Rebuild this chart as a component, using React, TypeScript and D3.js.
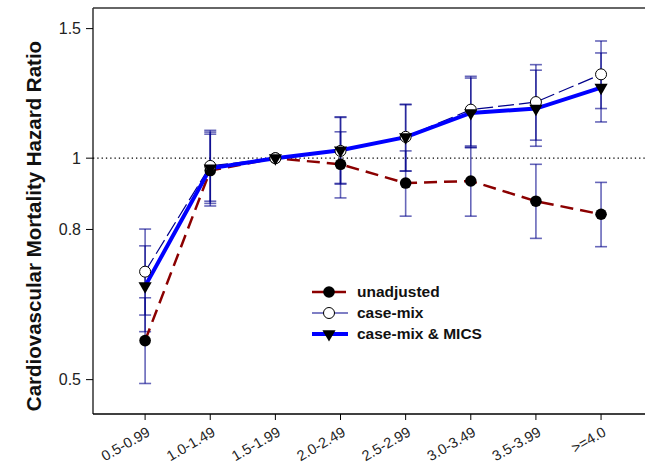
import React, { useEffect, useRef } from "react";
import * as d3 from "d3";

const categories = ["0.5-0.99", "1.0-1.49", "1.5-1.99", "2.0-2.49", "2.5-2.99", "3.0-3.49", "3.5-3.99", ">=4.0"];

const unadjusted = [0.565, 0.962, 1.0, 0.981, 0.925, 0.931, 0.874, 0.839];
const unadjustedLo = [0.494, 0.861, null, 0.883, 0.834, 0.834, 0.778, 0.758];
const unadjustedHi = [0.646, 1.078, null, 1.086, 1.023, 1.035, 0.981, 0.927];

const caseMix = [0.701, 0.976, 1.0, 1.023, 1.069, 1.164, 1.192, 1.3];
const caseMixLo = [0.612, 0.874, null, 0.924, 0.961, 1.039, 1.058, 1.168];
const caseMixHi = [0.801, 1.091, null, 1.138, 1.184, 1.292, 1.34, 1.443];

const mics = [0.67, 0.969, 1.0, 1.025, 1.068, 1.152, 1.168, 1.247];
const micsLo = [0.581, 0.868, null, 0.922, 0.96, 1.033, 1.038, 1.12];
const micsHi = [0.76, 1.085, null, 1.136, 1.182, 1.285, 1.317, 1.39];

const yTicks = [0.5, 0.8, 1, 1.5];
const legendLabels = ["unadjusted", "case-mix", "case-mix & MICS"];

const FONT = "'Liberation Sans', Arial, sans-serif";

const App = () => {
  const ref = useRef<SVGSVGElement>(null);

  useEffect(() => {
    const svg = d3.select(ref.current);
    svg.selectAll("*").remove();

    const left = 93,
      top = 8,
      bottom = 414,
      right = 646;

    const x = d3.scaleLinear().domain([-0.8, 7.69]).range([left, right]);
    const y = d3.scaleLog().domain([0.449, 1.6]).range([bottom, top]);
    const idx = categories.map((_, i) => i);

    // frame
    svg.append("line").attr("x1", left).attr("x2", right).attr("y1", top).attr("y2", top)
      .attr("stroke", "#333").attr("stroke-width", 1.5);
    svg.append("line").attr("x1", left).attr("x2", left).attr("y1", top).attr("y2", bottom)
      .attr("stroke", "#333").attr("stroke-width", 1.5);
    svg.append("line").attr("x1", left).attr("x2", right).attr("y1", bottom).attr("y2", bottom)
      .attr("stroke", "#000").attr("stroke-width", 1.5);

    // y ticks
    const yAxis = svg.append("g");
    yTicks.forEach((t) => {
      yAxis.append("line").attr("x1", left - 7).attr("x2", left).attr("y1", y(t)).attr("y2", y(t))
        .attr("stroke", "#000");
      yAxis.append("text").attr("x", left - 12).attr("y", y(t)).attr("dy", "0.35em")
        .attr("text-anchor", "end").attr("font-family", FONT)
        .attr("font-size", 16).attr("fill", "#222").text(String(t));
    });

    // x ticks
    const xAxis = svg.append("g");
    categories.forEach((c, i) => {
      xAxis.append("line").attr("x1", x(i)).attr("x2", x(i)).attr("y1", bottom).attr("y2", bottom + 6)
        .attr("stroke", "#000");
      xAxis.append("text")
        .attr("transform", `translate(${x(i) + 6},${bottom + 21}) rotate(-30)`)
        .attr("text-anchor", "end").attr("font-family", FONT)
        .attr("font-size", 14.5).attr("fill", "#222").text(c);
    });

    // axis title
    svg.append("text")
      .attr("transform", `translate(41,226) rotate(-90)`)
      .attr("text-anchor", "middle").attr("font-family", FONT)
      .attr("font-weight", "bold").attr("font-size", 20.5).attr("fill", "#111")
      .text("Cardiovascular Mortality Hazard Ratio");

    // reference line
    svg.append("line").attr("x1", left).attr("x2", right).attr("y1", y(1)).attr("y2", y(1))
      .attr("stroke", "#000").attr("stroke-width", 1.3).attr("stroke-dasharray", "1.3,3");

    // error bars
    const bars = svg.append("g").attr("stroke", "#00008b").attr("stroke-opacity", 0.6).attr("stroke-width", 1.6);
    [[unadjustedLo, unadjustedHi], [caseMixLo, caseMixHi], [micsLo, micsHi]].forEach(([lo, hi]) => {
      idx.forEach((i) => {
        if (lo[i] == null || hi[i] == null) return;
        bars.append("line").attr("x1", x(i)).attr("x2", x(i)).attr("y1", y(lo[i] as number)).attr("y2", y(hi[i] as number));
        [lo[i], hi[i]].forEach((v) => {
          bars.append("line").attr("x1", x(i) - 6).attr("x2", x(i) + 6).attr("y1", y(v as number)).attr("y2", y(v as number));
        });
      });
    });

    const line = d3.line<number>().x((d, i) => x(i)).y((d) => y(d));

    const styles = [
      { data: unadjusted, stroke: "#8b0000", width: 2.5, dash: "13,7" },
      { data: caseMix, stroke: "#00008b", width: 1.2, dash: "16,5" },
      { data: mics, stroke: "#0000ff", width: 4, dash: null },
    ];

    styles.forEach((s) => {
      svg.append("path").datum(s.data).attr("d", line).attr("fill", "none")
        .attr("stroke", s.stroke).attr("stroke-width", s.width)
        .attr("stroke-dasharray", s.dash);
    });

    const tri = d3.symbol().type(d3.symbolTriangle).size(75);

    const drawMarker = (g: any, kind: number, cx: number, cy: number) => {
      if (kind === 0) {
        g.append("circle").attr("cx", cx).attr("cy", cy).attr("r", 5.8).attr("fill", "#000");
      } else if (kind === 1) {
        g.append("circle").attr("cx", cx).attr("cy", cy).attr("r", 5.5).attr("fill", "#fff")
          .attr("stroke", "#000").attr("stroke-width", 1);
      } else {
        g.append("path").attr("d", tri).attr("transform", `translate(${cx},${cy}) rotate(180)`)
          .attr("fill", "#000");
      }
    };

    const markers = svg.append("g");
    styles.forEach((s, k) => {
      s.data.forEach((v, i) => drawMarker(markers, k, x(i), y(v)));
    });

    // legend
    const legend = svg.append("g");
    legendLabels.forEach((lab, k) => {
      const ly = 292 + k * 21;
      const s = styles[k];
      legend.append("line").attr("x1", 312).attr("x2", 348).attr("y1", ly).attr("y2", ly)
        .attr("stroke", s.stroke).attr("stroke-width", s.width)
        .attr("stroke-dasharray", s.dash ? (k === 0 ? "14,6" : "15,6") : null);
      drawMarker(legend, k, 329, ly);
      legend.append("text").attr("x", 357).attr("y", ly).attr("dy", "0.35em")
        .attr("font-family", FONT).attr("font-weight", "bold")
        .attr("font-size", 15.5).attr("fill", "#111").text(lab);
    });
  }, []);

  return (
    <svg
      ref={ref}
      width={645}
      height={465}
      style={{ position: "absolute", left: 0, top: 0, background: "#fff" }}
    />
  );
};

export default App;
